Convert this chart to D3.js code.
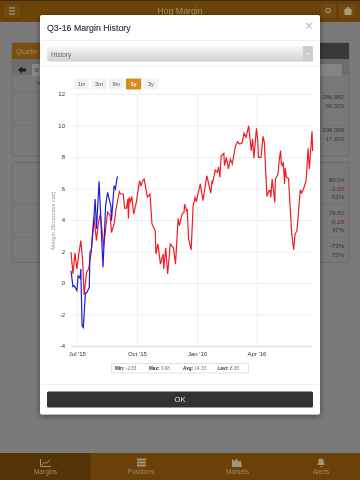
<!DOCTYPE html>
<html>
<head>
  <meta charset="utf-8">
  <script src="https://d3js.org/d3.v7.min.js"></script>
  <style>
    html, body { margin: 0; padding: 0; background: #7a7a7a; }
    svg { display: block; font-family: "Liberation Sans", Arial, sans-serif; filter: blur(0.4px); }
  </style>
</head>
<body>
<svg id="graph" width="360" height="480"></svg>
<script>
// days counted from 1 Jul 2015, values in $/carcass cwt
var startDay = new Date(2015, 6, 1);

var redDays = [-9,-6,-3,0,3,6,9,11,15,18,22,24,26,30,33,36,41,47,51,53,57,60,65,67,71,73,76,78,79,80,82,84,87,91,96,98,101,103,108,112,115,120,121,124,128,132,133,136,139,143,148,151,155,157,161,164,165,168,169,171,175,178,181,183,185,189,193,199,205,207,208,212,215,217,219,221,225,226,229,232,235,238,243,246,249,253,256,259,263,267,269,271,275,277,278,282,285,287,291,294,296,297,299,303,304,308,310,312,313,315,316,318,319,321,324,327,329,332,334,337,342,344,347,351,354,356,360,361];
var redValues = [1.96,0.57,1.9,0.89,1.84,2.69,1.33,-0.76,0.7,0.89,1.96,3.2,4.2,2.69,3.85,4.38,2.3,4.5,4.27,3.2,3.75,4.7,5.8,5.65,5.65,4.75,4.75,5.33,4.1,5.45,5.16,5.5,4.38,5.13,6.5,6.18,6.5,6.6,5.45,5.65,3.75,3.32,1.84,2.48,1.2,1.84,0.89,2.22,0.57,2.48,2.22,1.2,4.1,3.64,4.38,4.49,5,4.59,4.7,2.8,2.1,4.9,5.44,5.16,5.6,6.29,5.23,6.81,5.71,6.5,6.39,7.17,7.03,7.38,6.71,8.08,8.23,7.45,7.98,7.24,7.87,7.56,8.72,8.97,8.83,8.89,9.52,9.25,9.98,8.4,9.14,7.92,9.82,9.03,7.98,7.98,9.31,8.93,5.5,5.86,5.86,5.44,6.6,5.12,6.6,6.92,7.87,8.4,7.56,7.45,7.7,6.29,7.3,6.71,6.65,4.49,3.11,2.11,3.11,3.32,5.92,5.71,5.97,6.5,8.55,7.24,9.63,8.38];

var blueDays = [-9,-6,-4,0,2,5,6,8,10,13,15,19,20,22,25,28,30,34,40,44,47,52,53,57,59,62];
var blueValues = [0.78,-0.23,-0.17,-0.49,0.46,0.3,0.89,-2.71,-2.83,-0.63,-0.63,-0.27,1.95,2.05,3.43,5.33,3.43,6.46,1,4.9,5.76,4.9,3.95,6.18,5.97,6.77];

var yTicks = [-4,-2,0,2,4,6,8,10,12];
var xTickDates = [new Date(2015,6,1), new Date(2015,9,1), new Date(2016,0,1), new Date(2016,3,1)];
var rangeButtons = ["1m","3m","9m","1y","3y"];
var statLabels = ["Min:","Max:","Avg:","Last:"];
var statValues = ["-2.83","9.98","14.33","8.38"];
var tabLabels = ["Margins","Positions","Markets","Alerts"];

var svg = d3.select("#graph");

function box(sel, x, y, w, h, fill, rx) {
    return sel.append("rect").attr("x", x).attr("y", y).attr("width", w).attr("height", h)
        .attr("fill", fill).attr("rx", rx || 0);
}
function label(sel, x, y, txt, size, fill, anchor, weight) {
    return sel.append("text").attr("x", x).attr("y", y).text(txt)
        .attr("font-size", size).attr("fill", fill)
        .attr("text-anchor", anchor || "start").attr("font-weight", weight || "normal");
}

// dimmed page behind the dialog
var page = svg.append("g");
box(page, 0, 0, 360, 480, "#7a7a7a");
box(page, 0, 0, 360, 22, "#6c4408");
box(page, 0, 0, 360, 1, "#3c2a10");
box(page, 3, 3, 18, 16, "#6f4a10", 1).attr("stroke", "#5e3c08");
[8, 11, 14].forEach(function(y) { box(page, 9, y - 0.7, 6, 1.4, "#a08e6a"); });
box(page, 320, 3, 17, 16, "#6f4a10").attr("stroke", "#5e3c08");
box(page, 338, 3, 19, 16, "#6f4a10").attr("stroke", "#5e3c08");
page.append("circle").attr("cx", 328).attr("cy", 10.5).attr("r", 2.2).attr("fill", "none").attr("stroke", "#a08e6a").attr("stroke-width", 1.2);
page.append("path").attr("d", "M343 11l5-4.5 5 4.5h-1.5v4h-7v-4z").attr("fill", "#a89a7c");
label(page, 180, 14, "Hog Margin", 8.8, "#a89468", "middle");

// first panel
box(page, 12, 42.5, 337, 113.5, "#797979", 2).attr("stroke", "#6c6c6c");
box(page, 12, 43, 28, 16, "#7a4f10");
box(page, 320, 43, 29, 16, "#3a3a3a");
box(page, 12, 59, 337, 16, "#6d6d6d");
box(page, 32, 64, 10, 12, "#8a8a8a");
box(page, 320, 64, 22, 12, "#848484");
label(page, 16, 53.5, "Quarter", 6.5, "#a08a5e");
label(page, 34, 72, "3r", 5.5, "#3c3c3c");
page.append("path").attr("d", "M18 70l4-3.5v2h4v3h-4v2z").attr("fill", "#1e1e1e");
label(page, 37, 85, "M", 5, "#333");
// second panel
box(page, 12, 162.5, 337, 100, "#797979", 2).attr("stroke", "#6c6c6c");
[92, 125, 204, 237].forEach(function(y) {
    page.append("line").attr("x1", 12).attr("x2", 349).attr("y1", y).attr("y2", y).attr("stroke", "#727272");
});

var sideNumbers = [[99, "386,882", "#383838"], [108, "-56,505", "#383838"], [132, "308,088", "#383838"], [141, "-17,830", "#383838"],
    [182, "80.04", "#383838"], [190.5, "-1.05", "#6b1d2a"], [199, "53%", "#383838"],
    [215, "76.82", "#383838"], [223.5, "-0.26", "#6b1d2a"], [232, "47%", "#383838"],
    [248, "-73%", "#383838"], [257, "73%", "#383838"]];
sideNumbers.forEach(function(d) { label(page, 344, d[0], d[1], 6, d[2], "end"); });

// bottom tab bar
box(page, 0, 453, 360, 27, "#6a4208");
box(page, 0, 453, 91, 27, "#553408");
tabLabels.forEach(function(t, i) {
    label(page, [45.5, 141, 237.5, 321][i], 473.5, t, 6.5, "#9c8a66", "middle");
});
var iconCol = "#a3947a";
page.append("path").attr("d", "M40.5 459v7.5h10.5M42 465l2.5-3 2 1.5 3.5-4").attr("fill", "none").attr("stroke", iconCol);
[458.5, 461.5, 464.5].forEach(function(y) { box(page, 137, y, 9, 2, iconCol); });
page.append("path").attr("d", "M232 467v-8l2.5 2 2-2.5 2.5 3 2-1 1 6.5z").attr("fill", iconCol);
page.append("path").attr("d", "M317 465c1.5-1 1-3 1.5-5 .5-2 4.5-2 5 0 .5 2 0 4 1.5 5zM320 466h2.5l-1 1.5z").attr("fill", iconCol);

// dialog
var defs = svg.append("defs");
var grad = defs.append("linearGradient").attr("id", "selGrad").attr("x1", 0).attr("x2", 0).attr("y1", 0).attr("y2", 1);
grad.append("stop").attr("offset", 0).attr("stop-color", "#f7f7f7");
grad.append("stop").attr("offset", 1).attr("stop-color", "#d2d2d2");
var shadow = defs.append("filter").attr("id", "dlgShadow").attr("x", "-10%").attr("y", "-10%").attr("width", "120%").attr("height", "120%");
shadow.append("feDropShadow").attr("dx", 0).attr("dy", 1.5).attr("stdDeviation", 3).attr("flood-color", "#000").attr("flood-opacity", 0.45);

var dlg = svg.append("g");
box(dlg, 40, 15, 280, 399.5, "#fff", 2).attr("filter", "url(#dlgShadow)");
label(dlg, 47, 31, "Q3-16 Margin History", 8.8, "#333", "start", "500").attr("stroke", "#333").attr("stroke-width", 0.15);
label(dlg, 309, 30, "×", 13, "#c8c8c8", "middle", "bold");
[40.5, 66.5, 384.5].forEach(function(y) {
    dlg.append("line").attr("x1", 40).attr("x2", 320).attr("y1", y).attr("y2", y).attr("stroke", "#f0f0f0");
});
box(dlg, 47, 46, 266, 15.5, "url(#selGrad)", 2);
box(dlg, 303, 46, 10, 15.5, "#cdcdcd", 1);
dlg.append("path").attr("d", "M306.5 53h3l-1.5 2z").attr("fill", "#f4f4f4");
label(dlg, 51, 56.5, "History", 6.5, "#666");

// zoom buttons
rangeButtons.forEach(function(t, i) {
    var x = 74 + i * 17.3;
    var on = t == "1y";
    box(dlg, x, 78.5, 15.3, 11, on ? "#d88b1c" : "#f2f2f2", 1);
    label(dlg, x + 7.6, 86, t, 5.5, on ? "#fff" : "#555", "middle", on ? "bold" : "normal");
});

// chart
var scX = d3.scaleTime().domain([d3.timeDay.offset(startDay, -9), d3.timeDay.offset(startDay, 360)]).range([71, 312]);
var scY = d3.scaleLinear().domain([-4, 12]).range([346, 94]);

var gy = dlg.append("g").attr("transform", "translate(71,0)")
    .call(d3.axisLeft(scY).tickValues(yTicks).tickFormat(String).tickSize(-241).tickPadding(6));
var gx = dlg.append("g").attr("transform", "translate(0,346)")
    .call(d3.axisBottom(scX).tickValues(xTickDates).tickFormat(d3.timeFormat("%b '%y")).tickSizeInner(-252).tickSizeOuter(0).tickPadding(6));
gy.select(".domain").remove();
gx.select(".domain").attr("stroke", "#dfe3ef").attr("stroke-width", 1.5);
gy.selectAll(".tick line").attr("stroke", "#eeeef2");
gx.selectAll(".tick line").attr("stroke", "#eeeef2");
gy.selectAll(".tick text").attr("font-size", 6).attr("font-family", "Liberation Sans").attr("fill", "#333");
gx.selectAll(".tick text").attr("font-size", 6).attr("font-family", "Liberation Sans").attr("fill", "#333");

label(dlg, 0, 0, "Margin ($/carcass cwt)", 5.8, "#9a9a9a", "middle")
    .attr("transform", "translate(54.5,220.5) rotate(-90)");

var line = d3.line().x(function(d) { return scX(d3.timeDay.offset(startDay, d[0])); }).y(function(d) { return scY(d[1]); });
dlg.append("path").attr("d", line(d3.zip(redDays, redValues))).attr("fill", "none").attr("stroke", "#f01c24").attr("stroke-width", 1.2);
dlg.append("path").attr("d", line(d3.zip(blueDays, blueValues))).attr("fill", "none").attr("stroke", "#1c1ce0").attr("stroke-width", 1.2);

// stats strip
box(dlg, 111.5, 363.5, 137, 9.5, "#fff").attr("stroke", "#e2e2e2");
statLabels.forEach(function(t, i) {
    var x = [115, 149, 183, 217.5][i];
    var lab = label(dlg, x, 370.3, t, 4.6, "#333", "start", "bold");
    lab.append("tspan").attr("dx", 1.5).attr("font-weight", "normal").attr("fill", "#777").text(statValues[i]);
});

// ok button
box(dlg, 47, 391.5, 266, 16, "#333", 1.5);
label(dlg, 180, 402.3, "OK", 7.5, "#e8e8e8", "middle");
</script>
</body>
</html>
